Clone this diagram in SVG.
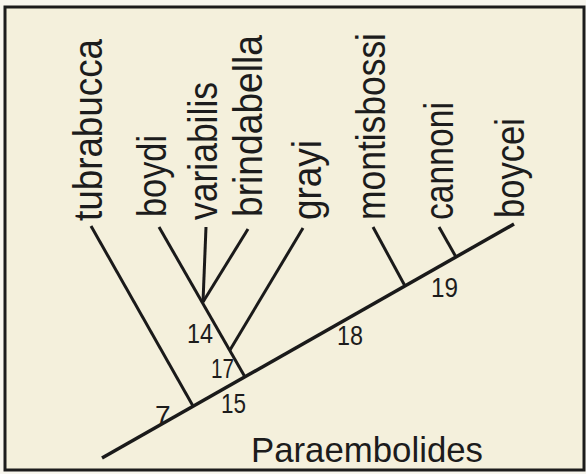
<svg xmlns="http://www.w3.org/2000/svg" width="586" height="474" viewBox="0 0 586 474">
<style>
.bg{fill:#f4f0dc}
.frame{fill:none;stroke:#1c1c1c;stroke-width:3}
.br{fill:none;stroke:#1a1a1a;stroke-width:3;stroke-linecap:butt}
.main{fill:none;stroke:#1a1a1a;stroke-width:3.5}
.tx{font-family:"Liberation Sans",Arial,sans-serif;fill:#1c1c1c}
.taxon{font-size:40px}
.num{font-size:28px}
.genus{font-size:35px}
</style>
<rect x="0" y="0" width="586" height="474" fill="#f8f6ee"/>
<rect class="bg" x="5" y="7" width="579" height="463"/>
<rect class="frame" x="5" y="7" width="579" height="463"/>
<g id="connectors">
<line class="main" x1="102" y1="458" x2="514" y2="224"/>
<line class="br" x1="91" y1="226" x2="193" y2="406"/>
<line class="br" x1="159" y1="227" x2="245" y2="377"/>
<line class="br" x1="206" y1="227" x2="203" y2="302"/>
<line class="br" x1="248" y1="229" x2="203" y2="302"/>
<line class="br" x1="303" y1="228" x2="230" y2="350"/>
<line class="br" x1="373" y1="227" x2="405" y2="286"/>
<line class="br" x1="439" y1="227" x2="456" y2="257"/>
</g>
<g id="tubrabucca"><text class="tx taxon" transform="translate(102,221) rotate(-90)" textLength="182" lengthAdjust="spacingAndGlyphs">tubrabucca</text></g>
<g id="boydi"><text class="tx taxon" transform="translate(166,217) rotate(-90)" textLength="82" lengthAdjust="spacingAndGlyphs">boydi</text></g>
<g id="variabilis"><text class="tx taxon" transform="translate(217,220) rotate(-90)" textLength="138" lengthAdjust="spacingAndGlyphs">variabilis</text></g>
<g id="brindabella"><text class="tx taxon" transform="translate(262,217) rotate(-90)" textLength="182" lengthAdjust="spacingAndGlyphs">brindabella</text></g>
<g id="grayi"><text class="tx taxon" transform="translate(321,220) rotate(-90)" textLength="80" lengthAdjust="spacingAndGlyphs">grayi</text></g>
<g id="montisbossi"><text class="tx taxon" transform="translate(385,220) rotate(-90)" textLength="187" lengthAdjust="spacingAndGlyphs">montisbossi</text></g>
<g id="cannoni"><text class="tx taxon" transform="translate(453,220) rotate(-90)" textLength="118" lengthAdjust="spacingAndGlyphs">cannoni</text></g>
<g id="boycei"><text class="tx taxon" transform="translate(524,218) rotate(-90)" textLength="100" lengthAdjust="spacingAndGlyphs">boycei</text></g>
<g id="node7"><text class="tx num" x="155" y="425">7</text></g>
<g id="node14"><text class="tx num" x="187" y="343" textLength="26" lengthAdjust="spacingAndGlyphs">14</text></g>
<g id="node15"><text class="tx num" x="221" y="413" textLength="25" lengthAdjust="spacingAndGlyphs">15</text></g>
<g id="node17"><text class="tx num" x="211" y="378" textLength="23" lengthAdjust="spacingAndGlyphs">17</text></g>
<g id="node18"><text class="tx num" x="337" y="345" textLength="26" lengthAdjust="spacingAndGlyphs">18</text></g>
<g id="node19"><text class="tx num" x="431" y="297" textLength="27" lengthAdjust="spacingAndGlyphs">19</text></g>
<g id="genus"><text class="tx genus" x="251" y="462" textLength="232" lengthAdjust="spacingAndGlyphs">Paraembolides</text></g>
</svg>
